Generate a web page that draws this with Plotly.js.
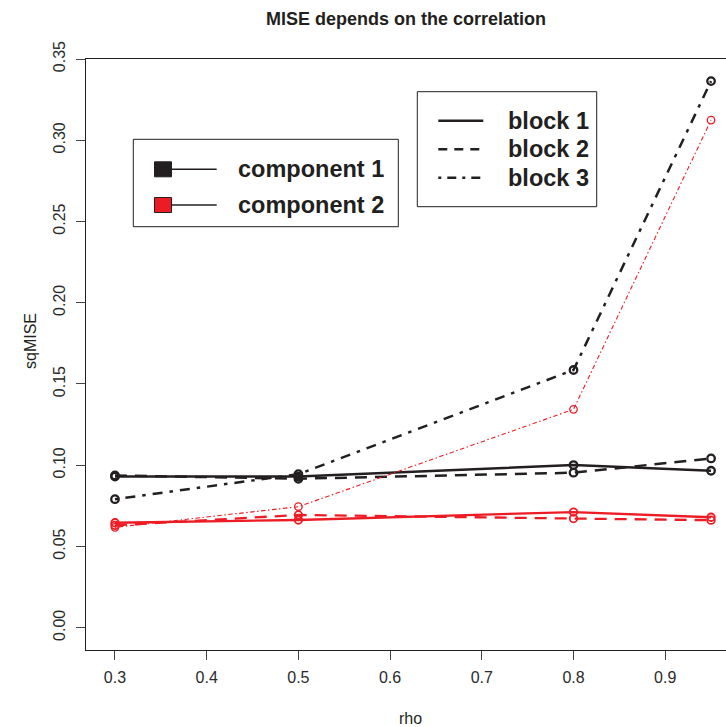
<!DOCTYPE html>
<html>
<head>
<meta charset="utf-8">
<script src="https://cdn.plot.ly/plotly-3.0.1.min.js"></script>
<style>
  html, body { margin: 0; padding: 0; background: #fff; overflow: hidden; }
  #chart { width: 726px; height: 727px; }
</style>
</head>
<body>
<div id="chart"></div>
<script>
// Correlation values on the x axis
const rho = [0.3, 0.5, 0.8, 0.95];

// sqMISE, component 1 (black)
const comp1Block1 = [0.0930, 0.0930, 0.1001, 0.0966];
const comp1Block2 = [0.0937, 0.0917, 0.0954, 0.1042];
const comp1Block3 = [0.0791, 0.0945, 0.1586, 0.3364];

// sqMISE, component 2 (red)
const comp2Block1 = [0.0646, 0.0663, 0.0712, 0.0680];
const comp2Block2 = [0.0630, 0.0694, 0.0672, 0.0662];
const comp2Block3 = [0.0618, 0.0745, 0.1344, 0.3124];

// Axis ticks
const xTicks = [0.3, 0.4, 0.5, 0.6, 0.7, 0.8, 0.9];
const yTicks = [0, 0.05, 0.10, 0.15, 0.20, 0.25, 0.30, 0.35];
const yTickText = ['0.00', '0.05', '0.10', '0.15', '0.20', '0.25', '0.30', '0.35'];

// Legend labels
const componentLabels = ['component 1', 'component 2'];
const blockLabels = ['block 1', 'block 2', 'block 3'];

const BLACK = '#231F20';
const RED = '#ED1C24';
const FONT = '"Liberation Sans", Arial, Helvetica, sans-serif';

const DASH_SOLID = 'solid';
const DASH_DASHED = '12px,8px';
const DASH_DOTDASH = '3.5px,7px,10px,7px';
const DASH_DOTDASH_THIN = '1.5px,2.5px,4.5px,2.5px';

function series(y, color, dash, width, markerWidth) {
  return {
    x: rho, y: y, type: 'scatter', mode: 'lines+markers',
    line: { color: color, width: width, dash: dash },
    marker: { symbol: 'circle-open', size: 7.5, color: color, line: { color: color, width: markerWidth } },
    hoverinfo: 'x+y'
  };
}

const traces = [
  series(comp1Block1, BLACK, DASH_SOLID, 2.5, 2.3),
  series(comp1Block2, BLACK, DASH_DASHED, 2.5, 2.3),
  series(comp1Block3, BLACK, DASH_DOTDASH, 2.5, 2.3),
  series(comp2Block1, RED, DASH_SOLID, 2.3, 1.8),
  series(comp2Block2, RED, DASH_DASHED, 2.3, 1.8),
  series(comp2Block3, RED, DASH_DOTDASH_THIN, 1.1, 1.3)
];

// Plot region in pixels, used to place the two legend boxes
const L = 86, T = 59, PW = 640, PH = 591;
const px = x => (x - L) / PW;
const py = y => (T + PH - y) / PH;

const shapes = [];
const annotations = [];

// Legend for the components: filled square + line
shapes.push({ type: 'rect', xref: 'paper', yref: 'paper',
  x0: px(133.3), x1: px(398.3), y0: py(139.3), y1: py(226.7),
  line: { color: BLACK, width: 1 }, fillcolor: 'rgba(0,0,0,0)' });
const compRows = [169.3, 205];
const compFill = [BLACK, RED];
compRows.forEach((cy, i) => {
  shapes.push({ type: 'line', xref: 'paper', yref: 'paper',
    x0: px(171), x1: px(216.7), y0: py(cy), y1: py(cy),
    line: { color: BLACK, width: 1.6 } });
  shapes.push({ type: 'rect', xref: 'paper', yref: 'paper',
    x0: px(154.5), x1: px(171.5), y0: py(cy - 7.5), y1: py(cy + 7.5),
    line: { color: BLACK, width: 1 }, fillcolor: compFill[i] });
  annotations.push({ xref: 'paper', yref: 'paper', x: px(236), y: py(cy),
    xanchor: 'left', yanchor: 'middle', showarrow: false, text: componentLabels[i],
    font: { family: FONT, size: 23.5, weight: 700, color: BLACK } });
});

// Legend for the blocks: line styles
shapes.push({ type: 'rect', xref: 'paper', yref: 'paper',
  x0: px(417.3), x1: px(596.7), y0: py(91.7), y1: py(206.7),
  line: { color: BLACK, width: 1 }, fillcolor: 'rgba(0,0,0,0)' });
const blockRows = [120.7, 149.3, 177.7];
const blockDash = [DASH_SOLID, '9px,7px', '3px,6px,9px,6px'];
blockRows.forEach((cy, i) => {
  shapes.push({ type: 'line', xref: 'paper', yref: 'paper',
    x0: px(438.3), x1: px(483.3), y0: py(cy), y1: py(cy),
    line: { color: BLACK, width: 2.6, dash: blockDash[i] } });
  annotations.push({ xref: 'paper', yref: 'paper', x: px(505.7), y: py(cy),
    xanchor: 'left', yanchor: 'middle', showarrow: false, text: blockLabels[i],
    font: { family: FONT, size: 23.5, weight: 700, color: BLACK } });
});

// Axis titles
annotations.push({ xref: 'paper', yref: 'paper', x: px(410), y: py(718),
  xanchor: 'center', yanchor: 'middle', showarrow: false, text: 'rho',
  font: { family: FONT, size: 16, color: BLACK } });
annotations.push({ xref: 'paper', yref: 'paper', x: px(30), y: py(341),
  xanchor: 'center', yanchor: 'middle', showarrow: false, text: 'sqMISE', textangle: -90,
  font: { family: FONT, size: 16, color: BLACK } });

const layout = {
  width: 726, height: 727,
  margin: { l: L, r: 0, t: T, b: 727 - T - PH, pad: 0 },
  paper_bgcolor: '#ffffff', plot_bgcolor: '#ffffff',
  showlegend: false,
  font: { family: FONT, size: 16, color: BLACK },
  title: {
    text: 'MISE depends on the correlation',
    x: 406 / 726, xanchor: 'center', xref: 'container',
    y: 1 - 19 / 727, yanchor: 'middle', yref: 'container',
    font: { family: FONT, size: 18, weight: 700, color: BLACK }
  },
  xaxis: {
    range: [0.2684, 0.9663], tickvals: xTicks, tickformat: '.1f',
    ticks: 'outside', ticklen: 9, tickwidth: 1, tickcolor: '#444',
    showline: true, linecolor: BLACK, linewidth: 1.2, mirror: true,
    showgrid: false, zeroline: false, ticklabelstandoff: 4,
    tickfont: { family: FONT, size: 16, color: '#2a2a2a' }
  },
  yaxis: {
    range: [-0.0137, 0.35], tickvals: yTicks, ticktext: yTickText, tickangle: -90,
    ticks: 'outside', ticklen: 9, tickwidth: 1, tickcolor: '#444',
    showline: true, linecolor: BLACK, linewidth: 1.2, mirror: false,
    showgrid: false, zeroline: false, ticklabelstandoff: 4,
    tickfont: { family: FONT, size: 16, color: '#2a2a2a' }
  },
  shapes: shapes,
  annotations: annotations
};

Plotly.newPlot('chart', traces, layout, { displayModeBar: false, staticPlot: true });
</script>
</body>
</html>
